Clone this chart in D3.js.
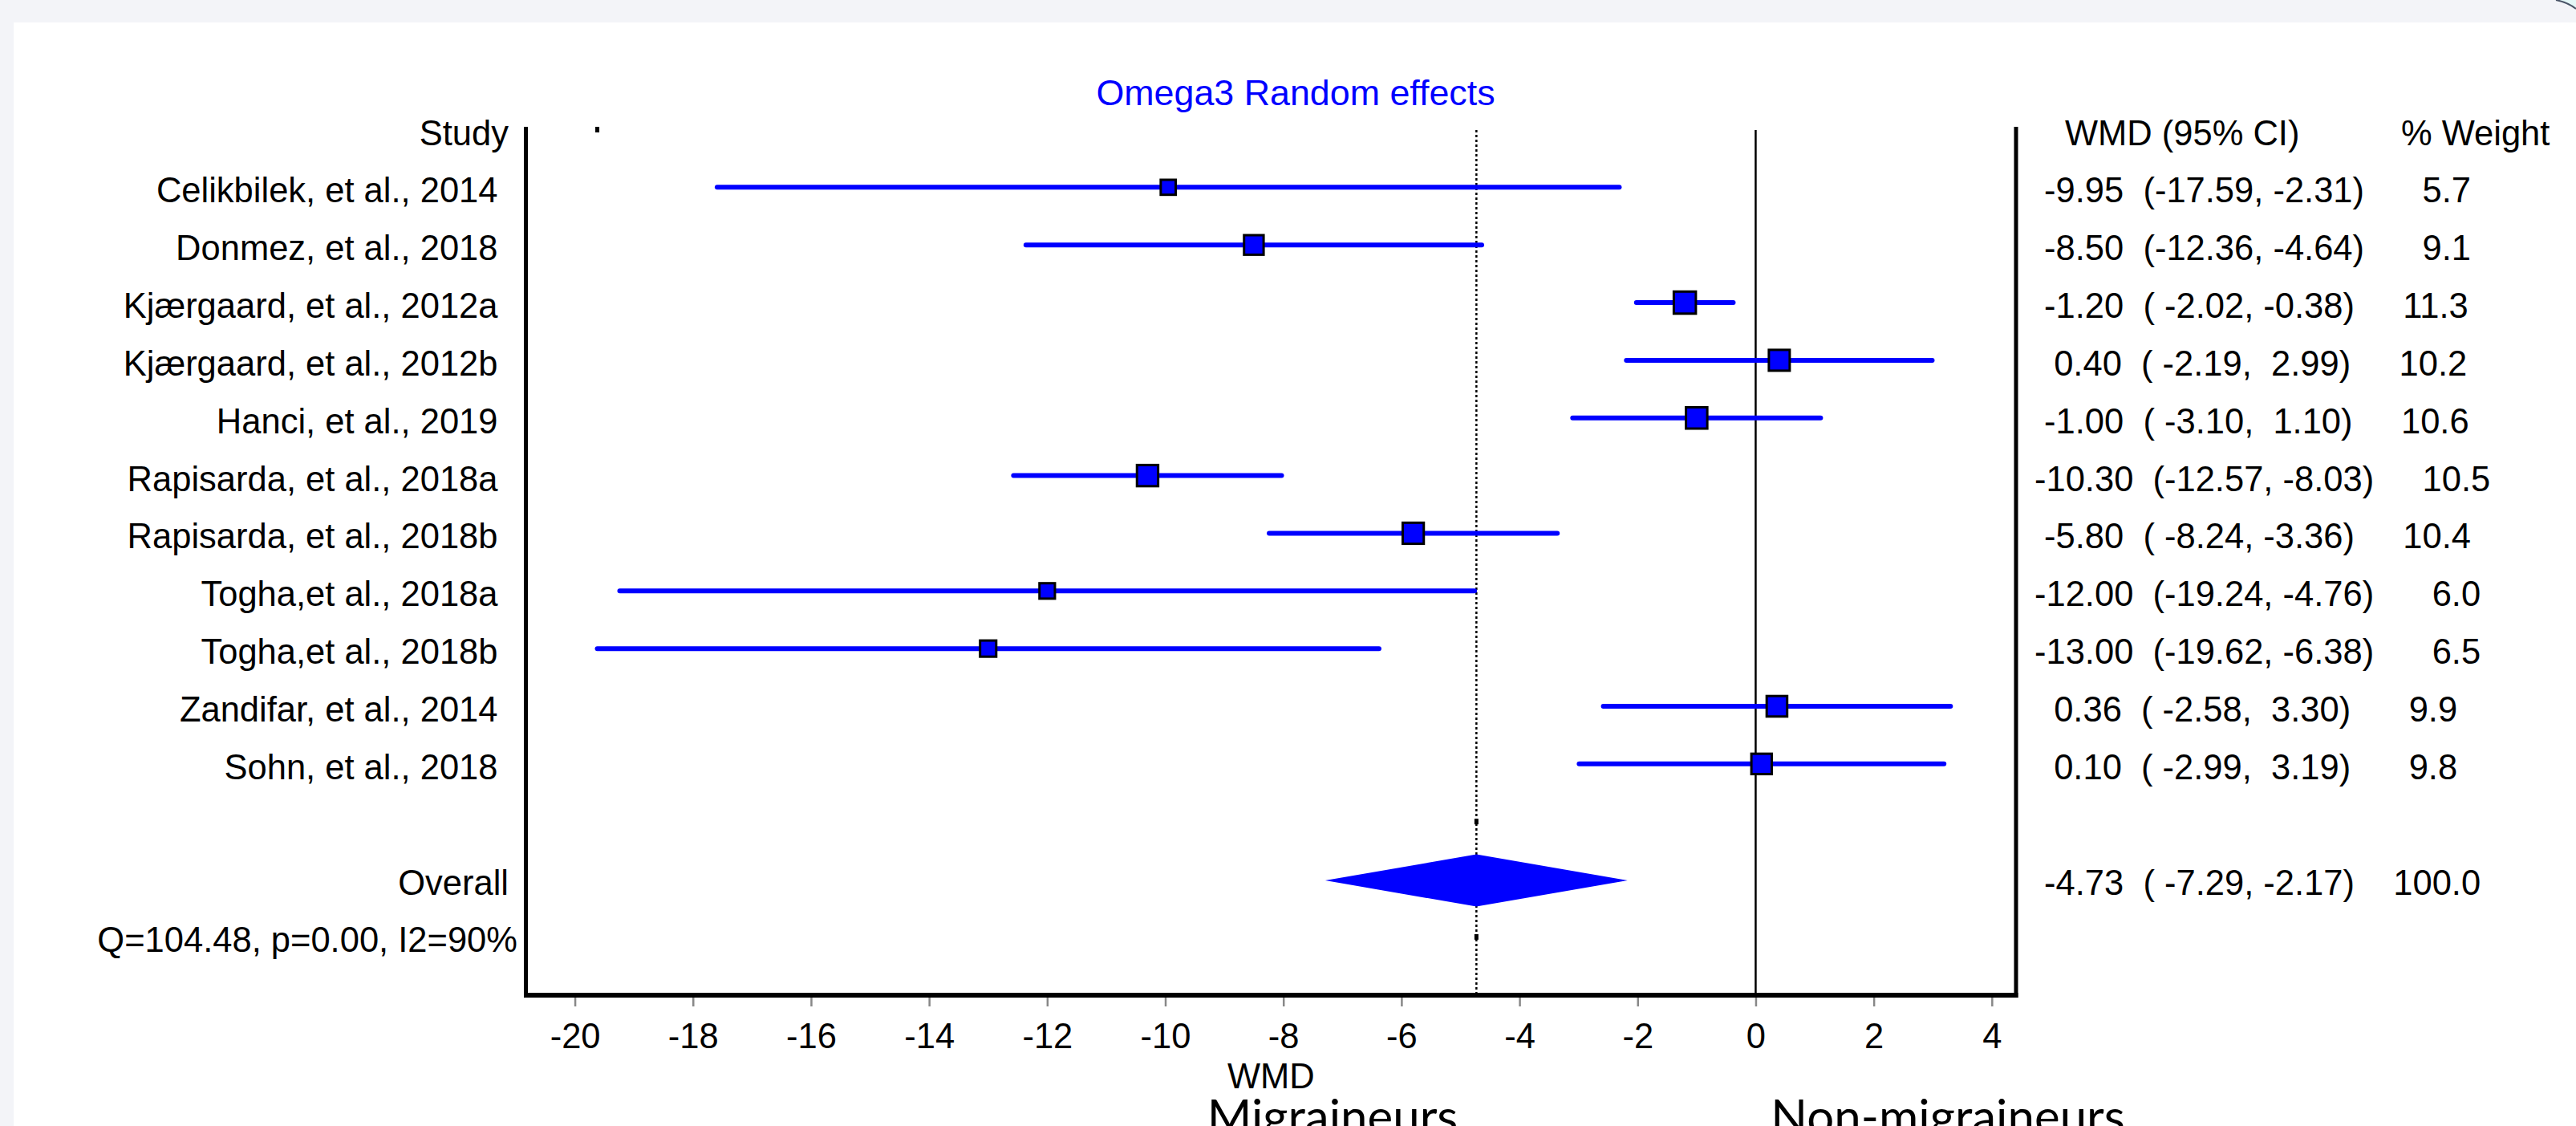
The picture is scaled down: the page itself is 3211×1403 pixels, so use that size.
<!DOCTYPE html>
<html><head><meta charset="utf-8">
<script src="https://cdn.jsdelivr.net/npm/d3@7"></script>
<style>html,body{margin:0;padding:0;background:#f3f4f8;overflow:hidden}</style>
</head><body>
<svg id="chart" width="3211" height="1403"></svg>
<script>
// ---- data ----
const studies = [
  "Celikbilek, et al., 2014",
  "Donmez, et al., 2018",
  "Kjærgaard, et al., 2012a",
  "Kjærgaard, et al., 2012b",
  "Hanci, et al., 2019",
  "Rapisarda, et al., 2018a",
  "Rapisarda, et al., 2018b",
  "Togha,et al., 2018a",
  "Togha,et al., 2018b",
  "Zandifar, et al., 2014",
  "Sohn, et al., 2018"
];
const wmd     = [-9.95, -8.50, -1.20, 0.40, -1.00, -10.30, -5.80, -12.00, -13.00, 0.36, 0.10];
const lower   = [-17.59, -12.36, -2.02, -2.19, -3.10, -12.57, -8.24, -19.24, -19.62, -2.58, -2.99];
const upper   = [-2.31, -4.64, -0.38, 2.99, 1.10, -8.03, -3.36, -4.76, -6.38, 3.30, 3.19];
const weights = [5.7, 9.1, 11.3, 10.2, 10.6, 10.5, 10.4, 6.0, 6.5, 9.9, 9.8];
const overallWmd = -4.73, overallLower = -7.29, overallUpper = -2.17, overallWeight = 100.0;
const xTicks = [-20, -18, -16, -14, -12, -10, -8, -6, -4, -2, 0, 2, 4];
const xDomain = [-20.83, 4.41];
const title = "Omega3 Random effects";
const heterogeneity = "Q=104.48, p=0.00, I2=90%";

// ---- setup ----
const W = 3211, H = 1403;
const FONT = "'Liberation Sans', Arial, sans-serif";
const FS = 43.5;
const BLUE = "#0000ff";
const svg = d3.select("#chart");

svg.append("rect").attr("x", 0).attr("y", 0).attr("width", W).attr("height", H).attr("fill", "#f3f4f8");
svg.append("rect").attr("x", 17).attr("y", 28).attr("width", W - 17).attr("height", H - 28).attr("fill", "#ffffff");
// corner decoration top-right
svg.append("path").attr("d", "M3186,0 Q3201,3 3211,11 L3211,0 Z").attr("fill", "#e4f7f7");
svg.append("path").attr("d", "M3186,0 Q3201,3 3211,11").attr("fill", "none").attr("stroke", "#4a5568").attr("stroke-width", 2);

const x = d3.scaleLinear().domain(xDomain).range([655.5, 2513]);
const y = d3.scaleLinear().domain([0, 14]).range([161.5, 1167.4]);
const size = d3.scaleSqrt().domain([0, 11.3]).range([0, 30.5]);

const lineTop = 162, axisY = 1240;
const g = svg.append("g");

// reference lines
g.append("line").attr("x1", x(0)).attr("x2", x(0)).attr("y1", lineTop).attr("y2", axisY)
  .attr("stroke", "#000").attr("stroke-width", 2.5);
g.append("line").attr("x1", x(overallWmd)).attr("x2", x(overallWmd)).attr("y1", lineTop).attr("y2", axisY)
  .attr("stroke", "#000").attr("stroke-width", 2.5).attr("stroke-dasharray", "3 3");

// frame
const [xl, xr] = x.range();
g.append("line").attr("x1", xl).attr("x2", xl).attr("y1", 158).attr("y2", axisY + 3)
  .attr("stroke", "#000").attr("stroke-width", 5);
g.append("line").attr("x1", xr).attr("x2", xr).attr("y1", 158).attr("y2", axisY + 3)
  .attr("stroke", "#000").attr("stroke-width", 5);
g.append("line").attr("x1", xl - 2.5).attr("x2", xr + 2.5).attr("y1", axisY).attr("y2", axisY)
  .attr("stroke", "#000").attr("stroke-width", 6);

// axis ticks
const axis = d3.axisBottom(x).tickValues(xTicks).tickSize(11).tickFormat(d => String(d));
const ag = svg.append("g").attr("transform", `translate(0,${axisY + 3})`).call(axis);
ag.select(".domain").remove();
ag.selectAll(".tick line").attr("stroke", "#888").attr("stroke-width", 2.5);
ag.selectAll(".tick text").attr("y", 63).attr("dy", null)
  .attr("font-family", FONT).attr("font-size", FS).attr("fill", "#000");

// CI lines and squares
const rows = studies.map((s, i) => ({s, m: wmd[i], l: lower[i], h: upper[i], w: weights[i], r: i + 1}));
g.selectAll(".ci").data(rows).join("line").attr("class", "ci")
  .attr("x1", d => x(d.l)).attr("x2", d => x(d.h))
  .attr("y1", d => y(d.r)).attr("y2", d => y(d.r))
  .attr("stroke", BLUE).attr("stroke-width", 6).attr("stroke-linecap", "round");
g.selectAll(".box").data(rows).join("rect").attr("class", "box")
  .attr("x", d => x(d.m) - (size(d.w) - 3) / 2).attr("y", d => y(d.r) - (size(d.w) - 3) / 2)
  .attr("width", d => size(d.w) - 3).attr("height", d => size(d.w) - 3)
  .attr("fill", BLUE).attr("stroke", "#000").attr("stroke-width", 3);

// overall diamond
const yc = y(13) + 1.5, dh = 32.5;
g.append("path")
  .attr("d", `M${x(overallLower)},${yc} L${x(overallWmd)},${yc - dh} L${x(overallUpper)},${yc} L${x(overallWmd)},${yc + dh} Z`)
  .attr("fill", BLUE);

// small dots
const dots = [{v: d3.min(lower), r: 0}, {v: overallWmd, r: 12}, {v: overallWmd, r: 14}];
g.selectAll(".dot").data(dots).join("rect").attr("class", "dot")
  .attr("x", d => x(d.v) - 2.5).attr("y", d => y(d.r) - 3.5).attr("width", 5).attr("height", 7).attr("fill", "#000");

// ---- texts ----
function txt(t, xx, yy, anchor, opts = {}) {
  return svg.append("text").attr("x", xx).attr("y", yy).attr("text-anchor", anchor)
    .attr("font-family", opts.font || FONT).attr("font-size", opts.size || FS)
    .attr("fill", opts.fill || "#000").attr("xml:space", "preserve").style("white-space", "pre").text(t);
}
const BL = 19;
txt(title, 1615, 131, "middle", {fill: BLUE, size: 44.8});
txt("Study", 634, y(0) + BL, "end");
txt("WMD (95% CI)", 2574, y(0) + BL, "start");
txt("% Weight", 2993, y(0) + BL, "start");

svg.selectAll(".lab").data(rows).join("text").attr("class", "lab")
  .attr("x", 620.5).attr("y", d => y(d.r) + BL).attr("text-anchor", "end")
  .attr("font-family", FONT).attr("font-size", FS).text(d => d.s);

const rowStr = (m, l, h, w) => m.toFixed(2).padStart(6) + "  (" + l.toFixed(2).padStart(6) + ", " +
  h.toFixed(2).padStart(5) + ")" + "    " + w.toFixed(1).padStart(5);
svg.selectAll(".val").data(rows).join("text").attr("class", "val")
  .attr("x", 2536).attr("y", d => y(d.r) + BL).attr("text-anchor", "start")
  .attr("font-family", FONT).attr("font-size", FS).attr("xml:space", "preserve").style("white-space", "pre")
  .text(d => rowStr(d.m, d.l, d.h, d.w));

txt("Overall", 634, y(13) + BL, "end");
txt(rowStr(overallWmd, overallLower, overallUpper, overallWeight), 2536, y(13) + BL, "start");
txt(heterogeneity, 645, y(14) + BL, "end");

txt("WMD", (xl + xr) / 2, 1356, "middle");
txt("Migraineurs", 1661, 1413, "middle", {font: "Lato, 'Open Sans', sans-serif", size: 60});
txt("Non-migraineurs", 2428, 1413, "middle", {font: "Lato, 'Open Sans', sans-serif", size: 60});
</script>
</body></html>
